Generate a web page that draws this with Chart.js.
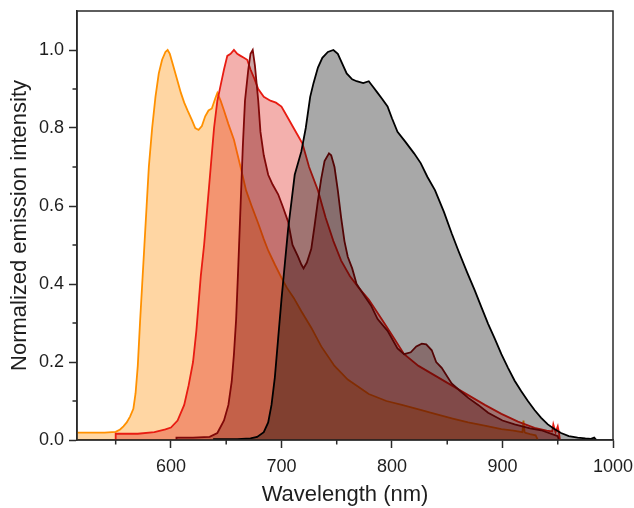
<!DOCTYPE html>
<html>
<head>
<meta charset="utf-8">
<script src="https://cdn.jsdelivr.net/npm/chart.js@4.4.1/dist/chart.umd.min.js"></script>
<style>
  body { margin: 0; background: #fff; }
  canvas { display: block; }
</style>
</head>
<body>
<canvas id="emissionChart" width="634" height="508"></canvas>
<script>
// Normalized emission spectra (wavelength in nm)
const orangeWl  = [510, 540, 550, 554, 557, 560, 563, 566, 568, 570, 572, 574, 576, 578, 580, 583, 586, 589, 592, 595, 597, 599, 602, 605, 609, 612, 615, 619, 622, 625, 628, 631, 634, 637, 640, 642, 645, 648, 652, 657, 663, 668, 673, 679, 684, 688, 694, 700, 705, 711, 718, 727, 736, 748, 760, 779, 795, 809, 825, 839, 855, 869, 885, 899, 910, 918, 919, 920, 921, 925, 930, 932];
const orangeInt = [0.019, 0.019, 0.021, 0.027, 0.035, 0.045, 0.06, 0.08, 0.12, 0.19, 0.3, 0.4, 0.5, 0.6, 0.7, 0.8, 0.88, 0.94, 0.975, 0.995, 1.0, 0.99, 0.96, 0.93, 0.89, 0.865, 0.845, 0.82, 0.8, 0.795, 0.805, 0.83, 0.845, 0.85, 0.875, 0.89, 0.87, 0.845, 0.81, 0.77, 0.70, 0.64, 0.6, 0.555, 0.515, 0.486, 0.45, 0.416, 0.39, 0.365, 0.33, 0.288, 0.24, 0.19, 0.155, 0.118, 0.1, 0.09, 0.078, 0.067, 0.055, 0.045, 0.036, 0.028, 0.024, 0.02, 0.05, 0.02, 0.018, 0.015, 0.012, 0];

const redWl  = [550, 550, 570, 585, 595, 600, 606, 612, 616, 620, 623, 625, 627, 630, 633, 636, 639, 642, 645, 648, 651, 654, 657, 660, 663, 666, 669, 672, 675, 679, 684, 690, 695, 700, 705, 711, 715, 719, 725, 733, 740, 747, 754, 762, 770, 779, 786, 793, 802, 811, 824, 839, 854, 869, 884, 899, 914, 929, 940, 945, 946, 948, 950, 951, 952];
const redInt = [0, 0.016, 0.016, 0.02, 0.027, 0.032, 0.05, 0.09, 0.14, 0.2, 0.28, 0.35, 0.42, 0.5, 0.6, 0.7, 0.8, 0.87, 0.91, 0.95, 0.985, 0.99, 1.0, 0.99, 0.985, 0.98, 0.975, 0.95, 0.93, 0.9, 0.88, 0.87, 0.865, 0.855, 0.83, 0.80, 0.78, 0.76, 0.70, 0.64, 0.57, 0.51, 0.46, 0.42, 0.39, 0.36, 0.33, 0.30, 0.26, 0.22, 0.19, 0.165, 0.14, 0.115, 0.09, 0.067, 0.047, 0.031, 0.024, 0.022, 0.04, 0.02, 0.035, 0.02, 0];

const darkRedWl  = [605, 605, 620, 635, 642, 648, 652, 655, 657, 659, 661, 663, 665, 667, 670, 672, 674, 676, 679, 681, 684, 688, 692, 697, 701, 706, 710, 715, 718, 720, 723, 727, 730, 733, 736, 739, 743, 745, 748, 751, 754, 757, 760, 764, 768, 775, 781, 787, 796, 805, 811, 817, 822, 827, 831, 836, 840, 845, 854, 862, 869, 878, 887, 900, 911, 925, 935, 945, 950, 951];
const darkRedInt = [0, 0.006, 0.006, 0.008, 0.018, 0.05, 0.09, 0.15, 0.22, 0.31, 0.45, 0.6, 0.75, 0.87, 0.95, 0.99, 1.0, 0.96, 0.87, 0.79, 0.73, 0.68, 0.655, 0.63, 0.6, 0.56, 0.50, 0.47, 0.45, 0.44, 0.455, 0.49, 0.55, 0.614, 0.67, 0.715, 0.735, 0.73, 0.70, 0.64, 0.57, 0.51, 0.47, 0.44, 0.40, 0.37, 0.345, 0.31, 0.28, 0.235, 0.22, 0.225, 0.24, 0.247, 0.245, 0.23, 0.2, 0.185, 0.145, 0.125, 0.108, 0.09, 0.07, 0.05, 0.04, 0.03, 0.025, 0.015, 0.01, 0];

const blackWl  = [639, 639, 660, 672, 678, 684, 688, 691, 694, 697, 700, 703, 706, 709, 712, 718, 722, 726, 729, 733, 737, 742, 747, 751, 755, 759, 764, 768, 774, 779, 783, 787, 791, 796, 800, 805, 812, 820, 826, 832, 839, 847, 854, 860, 868, 875, 881, 887, 893, 899, 905, 911, 917, 923, 929, 935, 941, 947, 953, 960, 968, 975, 980, 983, 985];
const blackInt = [0, 0.002, 0.002, 0.004, 0.008, 0.02, 0.045, 0.09, 0.16, 0.26, 0.36, 0.45, 0.54, 0.61, 0.68, 0.74, 0.8, 0.88, 0.915, 0.955, 0.98, 0.995, 1.0, 0.99, 0.965, 0.94, 0.925, 0.92, 0.915, 0.92, 0.905, 0.89, 0.875, 0.855, 0.825, 0.79, 0.765, 0.735, 0.71, 0.675, 0.64, 0.585, 0.53, 0.486, 0.43, 0.383, 0.34, 0.298, 0.26, 0.22, 0.185, 0.152, 0.125, 0.10, 0.077, 0.057, 0.04, 0.028, 0.018, 0.01, 0.006, 0.004, 0.003, 0.006, 0];

// Axis ticks
const xMajorTicks = [600, 700, 800, 900, 1000];
const xMinorTicks = [550, 650, 750, 850, 950];
const yMajorTicks = [0, 0.2, 0.4, 0.6, 0.8, 1.0];
const yMinorTicks = [0.1, 0.3, 0.5, 0.7, 0.9];

const toPoints = (wl, vals) => wl.map((x, i) => ({ x: x, y: vals[i] }));
const isIn = (list, v) => list.some(t => Math.abs(t - v) < 1e-9);

const frameColor = '#2a2a2a';

// closed box round the plot area + short minor ticks
const framePlugin = {
    id: 'frame',
    afterDraw(chart) {
        const { ctx, chartArea, scales } = chart;
        ctx.save();
        ctx.strokeStyle = frameColor;
        ctx.lineWidth = 1.5;
        ctx.strokeRect(chartArea.left, chartArea.top, chartArea.right - chartArea.left, chartArea.bottom - chartArea.top);
        ctx.beginPath();
        xMinorTicks.forEach(v => {
            const px = scales.x.getPixelForValue(v);
            ctx.moveTo(px, chartArea.bottom);
            ctx.lineTo(px, chartArea.bottom + 4.5);
        });
        yMinorTicks.forEach(v => {
            const py = scales.y.getPixelForValue(v);
            ctx.moveTo(chartArea.left, py);
            ctx.lineTo(chartArea.left - 4.5, py);
        });
        ctx.stroke();
        ctx.restore();
    }
};

Chart.defaults.font.family = '"Liberation Sans", Arial, sans-serif';
Chart.defaults.color = '#1e1e1e';

const ctx = document.getElementById('emissionChart').getContext('2d');
new Chart(ctx, {
    type: 'line',
    data: {
        datasets: [
            {
                label: 'orange',
                data: toPoints(orangeWl, orangeInt),
                borderColor: 'rgb(255,145,0)',
                backgroundColor: 'rgba(255,140,0,0.36)',
                fill: 'origin',
                order: 4
            },
            {
                label: 'red',
                data: toPoints(redWl, redInt),
                borderColor: 'rgb(232,28,18)',
                backgroundColor: 'rgba(220,30,20,0.35)',
                fill: 'origin',
                order: 3
            },
            {
                label: 'dark red',
                data: toPoints(darkRedWl, darkRedInt),
                borderColor: 'rgb(128,8,8)',
                backgroundColor: 'rgba(110,0,0,0.35)',
                fill: 'origin',
                order: 2
            },
            {
                label: 'black',
                data: toPoints(blackWl, blackInt),
                borderColor: '#000',
                backgroundColor: 'rgba(0,0,0,0.34)',
                fill: 'origin',
                order: 1
            }
        ]
    },
    options: {
        responsive: false,
        animation: false,
        layout: { padding: { left: 0, top: 11, right: 21, bottom: 0 } },
        elements: {
            point: { radius: 0 },
            line: { borderWidth: 1.8, tension: 0 }
        },
        plugins: {
            legend: { display: false },
            tooltip: { enabled: false }
        },
        scales: {
            x: {
                type: 'linear',
                min: 515,
                max: 1000,
                afterBuildTicks: (scale) => {
                    scale.ticks = [...xMajorTicks, ...xMinorTicks].sort((a, b) => a - b).map(v => ({ value: v }));
                },
                afterFit: (scale) => {
                    scale.height = 68;
                    scale.paddingLeft = 0;
                    scale.paddingRight = 0;
                },
                grid: {
                    drawOnChartArea: false,
                    drawTicks: true,
                    tickLength: 8,
                    tickColor: (c) => c.tick && isIn(xMinorTicks, c.tick.value) ? 'rgba(0,0,0,0)' : frameColor,
                    tickWidth: 1.5
                },
                border: { display: true, color: frameColor, width: 1.5 },
                ticks: {
                    autoSkip: false,
                    maxRotation: 0,
                    padding: 8,
                    font: { size: 18 },
                    callback: (v) => isIn(xMajorTicks, v) ? String(v) : ''
                },
                title: {
                    display: true,
                    text: 'Wavelength (nm)',
                    font: { size: 22 },
                    padding: { top: 0, bottom: 0 }
                }
            },
            y: {
                min: 0,
                max: 1.1,
                afterBuildTicks: (scale) => {
                    scale.ticks = [...yMajorTicks, ...yMinorTicks].sort((a, b) => a - b).map(v => ({ value: v }));
                },
                afterFit: (scale) => {
                    scale.width = 77;
                    scale.paddingTop = 0;
                    scale.paddingBottom = 0;
                },
                grid: {
                    drawOnChartArea: false,
                    drawTicks: true,
                    tickLength: 8,
                    tickColor: (c) => c.tick && isIn(yMinorTicks, c.tick.value) ? 'rgba(0,0,0,0)' : frameColor,
                    tickWidth: 1.5
                },
                border: { display: true, color: frameColor, width: 1.5 },
                ticks: {
                    autoSkip: false,
                    padding: 5,
                    font: { size: 18 },
                    callback: (v) => isIn(yMajorTicks, v) ? v.toFixed(1) : ''
                },
                title: {
                    display: true,
                    text: 'Normalized emission intensity',
                    font: { size: 22 },
                    padding: { top: 7, bottom: 0 }
                }
            }
        }
    },
    plugins: [framePlugin]
});
</script>
</body>
</html>
